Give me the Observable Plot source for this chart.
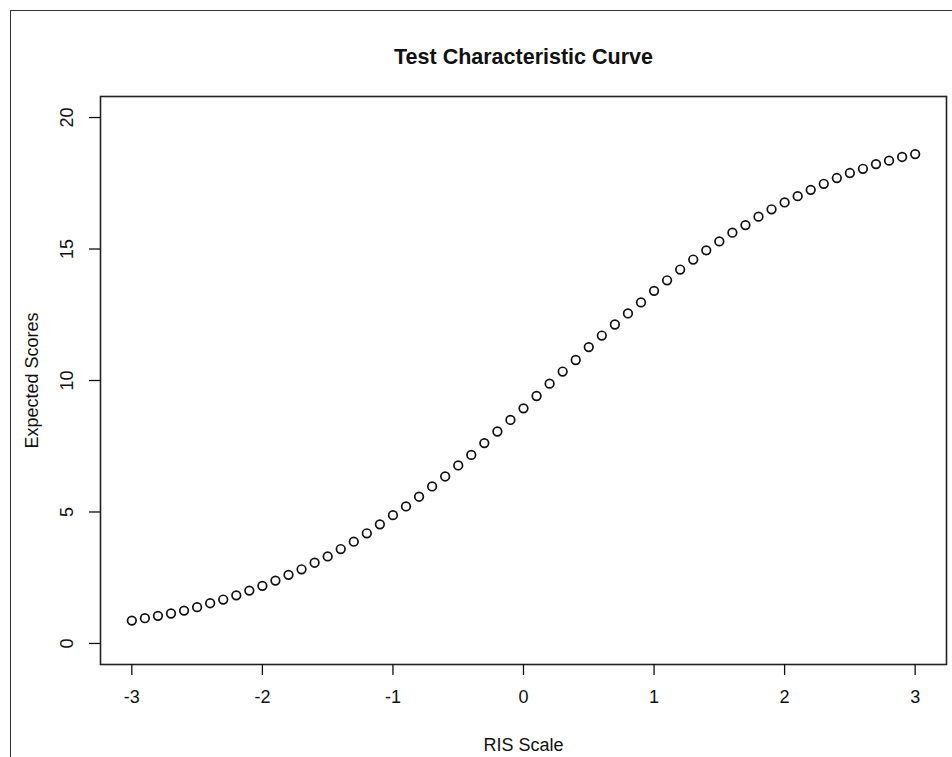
<!DOCTYPE html>
<html>
<head>
<meta charset="utf-8">
<script src="https://cdn.jsdelivr.net/npm/d3@7"></script>
<script src="https://cdn.jsdelivr.net/npm/@observablehq/plot@0.6"></script>
<style>
  html, body { margin: 0; padding: 0; background: #fff; overflow: hidden; }
  #wrap { position: relative; width: 952px; height: 757px; overflow: hidden; }
  #outer { position: absolute; left: 10px; top: 10px; width: 1000px; height: 1000px; border: 1.5px solid #333; box-sizing: border-box; }
  #chart { position: absolute; left: 0; top: 0; }
</style>
</head>
<body>
<div id="wrap"><div id="outer"></div><div id="chart"></div></div>
<script>
const titleText = "Test Characteristic Curve";
const xLabelText = "RIS Scale";
const yLabelText = "Expected Scores";
const xTicks = [-3, -2, -1, 0, 1, 2, 3];
const yTicks = [0, 5, 10, 15, 20];
const theta = [-3.0,-2.9,-2.8,-2.7,-2.6,-2.5,-2.4,-2.3,-2.2,-2.1,-2.0,-1.9,-1.8,-1.7,-1.6,-1.5,-1.4,-1.3,-1.2,-1.1,-1.0,
  -0.9,-0.8,-0.7,-0.6,-0.5,-0.4,-0.3,-0.2,-0.1,0.0,0.1,0.2,0.3,0.4,0.5,0.6,0.7,0.8,0.9,1.0,
  1.1,1.2,1.3,1.4,1.5,1.6,1.7,1.8,1.9,2.0,2.1,2.2,2.3,2.4,2.5,2.6,2.7,2.8,2.9,3.0];
const expected = [0.87,0.96,1.05,1.14,1.25,1.38,1.53,1.67,1.83,2.01,2.19,2.39,2.61,2.82,3.07,3.31,3.59,3.87,4.19,4.53,4.88,
  5.21,5.58,5.97,6.35,6.77,7.17,7.62,8.06,8.50,8.94,9.41,9.88,10.34,10.78,11.27,11.71,12.13,12.55,12.97,13.41,
  13.81,14.22,14.60,14.95,15.29,15.62,15.91,16.23,16.51,16.77,17.01,17.25,17.48,17.70,17.89,18.05,18.23,18.36,18.50,18.61];

const data = theta.map((t, i) => ({x: t, y: expected[i]}));
const font = "'Liberation Sans', Arial, Helvetica, sans-serif";

const chart = Plot.plot({
  width: 952,
  height: 757,
  marginLeft: 100,
  marginRight: 6,
  marginTop: 96,
  marginBottom: 93,
  style: {fontFamily: font, color: "#111", background: "transparent"},
  x: {domain: [-3.24, 3.24]},
  y: {domain: [-0.8, 20.8]},
  marks: [
    Plot.frame({stroke: "#222", strokeWidth: 1.6}),
    Plot.axisX({ticks: xTicks, tickSize: 11, tickPadding: 15, fontSize: 18, label: null, tickFormat: d => String(d), strokeWidth: 1.3}),
    Plot.axisY({ticks: yTicks, tickSize: 11, tickFormat: () => "", label: null, strokeWidth: 1.3}),
    Plot.text(yTicks, {y: d => d, text: d => String(d), frameAnchor: "left", dx: -33, rotate: -90, textAnchor: "middle", lineAnchor: "middle", fontSize: 18, fill: "#111"}),
    Plot.dot(data, {x: "x", y: "y", r: 4.3, stroke: "#111", strokeWidth: 1.7, fill: "none"}),
    Plot.text([titleText], {frameAnchor: "top", dy: -39, lineAnchor: "middle", fontSize: 21.5, fontWeight: "bold", fill: "#111"}),
    Plot.text([xLabelText], {frameAnchor: "bottom", dy: 81, lineAnchor: "middle", fontSize: 18, fill: "#111"}),
    Plot.text([yLabelText], {frameAnchor: "left", dx: -68, rotate: -90, textAnchor: "middle", lineAnchor: "middle", fontSize: 18, fill: "#111"})
  ]
});
document.getElementById("chart").appendChild(chart);
</script>
</body>
</html>
